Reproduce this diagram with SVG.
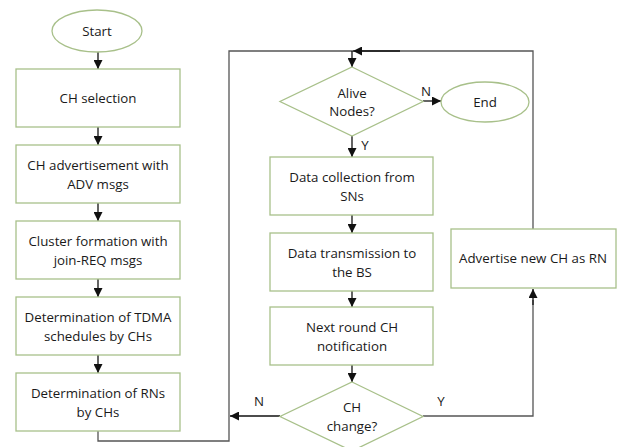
<svg xmlns="http://www.w3.org/2000/svg" width="619" height="447" viewBox="0 0 619 447">
<defs>
<marker id="ah" markerUnits="userSpaceOnUse" markerWidth="9" markerHeight="9" refX="9" refY="4.5" orient="auto">
<path d="M0,0 L9,4.5 L0,9 z" fill="#111"/>
</marker>
<style>
.box{fill:#fff;stroke:#a8c08a;stroke-width:1.3}
.t{font-family:"Open Sans","Liberation Sans",sans-serif;font-size:13.3px;fill:#1a1a1a;text-anchor:middle}
.c{fill:none;stroke:#555;stroke-width:1.3}
.a{fill:none;stroke:#111;stroke-width:1.3;marker-end:url(#ah)}
</style>
</defs>
<rect width="619" height="447" fill="#fff"/>
<g id="connectors">
<line class="a" x1="98" y1="52" x2="98" y2="69"/>
<line class="a" x1="98" y1="127" x2="98" y2="145"/>
<line class="a" x1="98" y1="203" x2="98" y2="221"/>
<line class="a" x1="98" y1="279" x2="98" y2="297"/>
<line class="a" x1="98" y1="355" x2="98" y2="373"/>
<polyline class="c" points="98,431 98,441 229,441 229,51 353,51"/>
<polyline class="c" points="533,229 533,51 360,51"/>
<line class="a" x1="400" y1="51" x2="353" y2="51"/>
<line class="a" x1="352" y1="51" x2="352" y2="67"/>
<line class="a" x1="423" y1="101" x2="441" y2="101"/>
<line class="a" x1="352" y1="136" x2="352" y2="157"/>
<line class="a" x1="352" y1="215" x2="352" y2="233"/>
<line class="a" x1="352" y1="291" x2="352" y2="307"/>
<line class="a" x1="352" y1="365" x2="352" y2="382"/>
<line class="a" x1="280" y1="416" x2="230" y2="416"/>
<polyline class="c" points="423,416 533,416 533,300"/>
<line class="a" x1="533" y1="305" x2="533" y2="289"/>
</g>
<g id="start"><ellipse class="box" cx="97" cy="31" rx="45" ry="21"/><text class="t" x="97" y="35.5">Start</text></g>
<g id="ch-selection"><rect class="box" x="16" y="69" width="164" height="58"/><text class="t" x="98" y="102.5">CH selection</text></g>
<g id="ch-adv"><rect class="box" x="16" y="145" width="164" height="58"/><text class="t" x="98" y="169.5">CH advertisement with</text><text class="t" x="98" y="188.5">ADV msgs</text></g>
<g id="cluster"><rect class="box" x="16" y="221" width="164" height="58"/><text class="t" x="98" y="245.5">Cluster formation with</text><text class="t" x="98" y="264.5">join-REQ msgs</text></g>
<g id="tdma"><rect class="box" x="16" y="297" width="164" height="58"/><text class="t" x="98" y="321.5">Determination of TDMA</text><text class="t" x="98" y="340.5">schedules by CHs</text></g>
<g id="rns"><rect class="box" x="16" y="373" width="164" height="58"/><text class="t" x="98" y="397.5">Determination of RNs</text><text class="t" x="98" y="416.5">by CHs</text></g>
<g id="alive"><polygon class="box" points="352,67 423,101.5 352,136 280,101.5"/><text class="t" x="352" y="97.5">Alive</text><text class="t" x="352" y="116">Nodes?</text></g>
<g id="end"><ellipse class="box" cx="485" cy="102" rx="44" ry="20"/><text class="t" x="485" y="106.5">End</text></g>
<g id="data-collection"><rect class="box" x="270" y="157" width="163" height="58"/><text class="t" x="352" y="181.5">Data collection from</text><text class="t" x="352" y="200.5">SNs</text></g>
<g id="data-transmission"><rect class="box" x="270" y="233" width="163" height="58"/><text class="t" x="352" y="257.5">Data transmission to</text><text class="t" x="352" y="276.5">the BS</text></g>
<g id="next-round"><rect class="box" x="270" y="307" width="163" height="58"/><text class="t" x="352" y="331.5">Next round CH</text><text class="t" x="352" y="350.5">notification</text></g>
<g id="ch-change"><polygon class="box" points="352,382 423,416.5 352,451 280,416.5"/><text class="t" x="352" y="412">CH</text><text class="t" x="352" y="431">change?</text></g>
<g id="advertise"><rect class="box" x="451" y="229" width="165" height="59"/><text class="t" x="533" y="263">Advertise new CH as RN</text></g>
<g id="labels">
<text class="t" x="426" y="96">N</text>
<text class="t" x="365" y="150">Y</text>
<text class="t" x="259" y="406">N</text>
<text class="t" x="441" y="406">Y</text>
</g>
</svg>
